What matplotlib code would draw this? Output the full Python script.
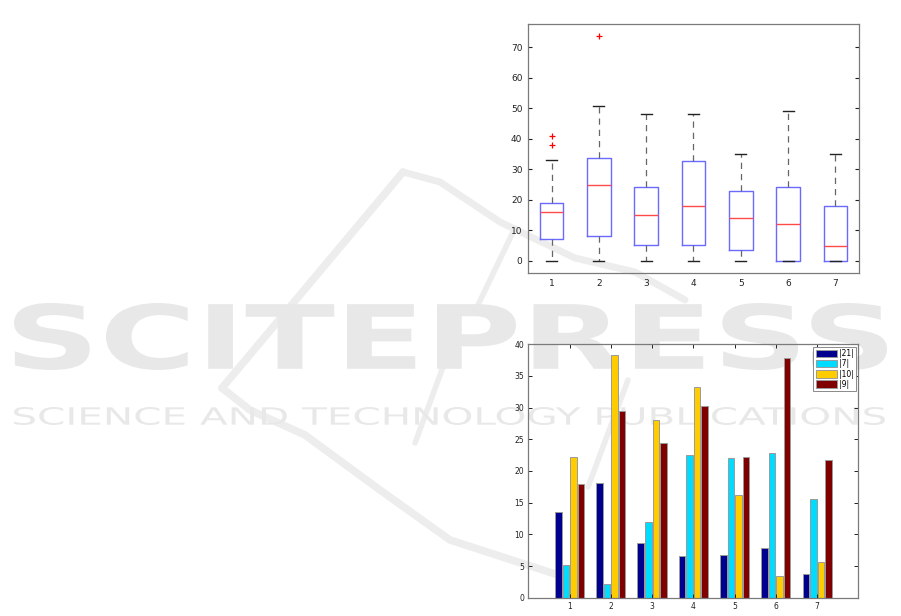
"""
Boxplot of errors per test and grouped bars comparing four methods
"""
import numpy as np
import matplotlib.pyplot as plt
import matplotlib.transforms as mtransforms
from matplotlib.textpath import TextPath
from matplotlib.patches import PathPatch
from matplotlib.font_manager import FontProperties

# box statistics (one entry per test 1..7)
box_labels = ['1', '2', '3', '4', '5', '6', '7']
box_whislo = [0, 0, 0, 0, 0, 0, 0]
box_q1 = [7.2, 8.1, 5.1, 5.1, 3.5, 0, 0]
box_med = [16.0, 24.9, 15.0, 17.9, 14.1, 12.1, 4.9]
box_q3 = [19.0, 33.7, 24.1, 32.8, 22.9, 24.1, 17.9]
box_whishi = [33.1, 50.8, 48.1, 48.1, 35.0, 49.2, 35.0]
box_fliers = [[38.0, 40.9], [73.9], [], [], [], [], []]

# grouped bars
groups = [1, 2, 3, 4, 5, 6, 7]
methods = ['|21|', '|7|', '|10|', '|9|']
vals_21 = [13.6, 18.05, 8.6, 6.6, 6.8, 7.8, 3.7]
vals_7 = [5.1, 2.1, 11.9, 22.6, 22.0, 22.9, 15.6]
vals_10 = [22.2, 38.3, 28.0, 33.3, 16.2, 3.5, 5.6]
vals_9 = [17.9, 29.5, 24.4, 30.2, 22.2, 37.8, 21.7]
bar_colors = ['#00008f', '#00dcff', '#ffcc00', '#800000']

fig = plt.figure(figsize=(9.01, 6.16), dpi=100)


def watermark_text(text, x0, y0, x1, y1, weight):
    # text stretched to fill a box given in pixel coords (y measured downward)
    tp = TextPath((0, 0), text, size=1, prop=FontProperties(family='DejaVu Sans', weight=weight))
    bb = tp.get_extents()
    W, H = 901.0, 616.0
    tr = (mtransforms.Affine2D()
          .translate(-bb.x0, -bb.y0)
          .scale((x1 - x0) / W / bb.width, (y1 - y0) / H / bb.height)
          .translate(x0 / W, 1 - y1 / H))
    patch = PathPatch(tp, facecolor='#e8e8e8', edgecolor='none',
                      transform=tr + fig.transFigure, zorder=-2)
    fig.add_artist(patch)


# faint publisher watermark in the background
bg = fig.add_axes([0, 0, 1, 1], zorder=-3)
bg.set_xlim(0, 901)
bg.set_ylim(616, 0)
bg.axis('off')
wm = dict(color='#ededed', solid_capstyle='round', solid_joinstyle='round')
bg.plot([222, 403], [388, 172], lw=5.5, **wm)
bg.plot([403, 440, 500, 575, 635, 685], [172, 182, 222, 258, 272, 300], lw=5, **wm)
bg.plot([478, 515], [305, 228], lw=4, **wm)
bg.plot([222, 250, 305, 380, 450, 518, 580], [388, 410, 435, 490, 540, 562, 582], lw=5.5, **wm)
bg.plot([415, 443], [443, 367], lw=4, **wm)
bg.plot([588, 628], [487, 380], lw=4, **wm)

watermark_text('SCITEPRESS', 14, 303, 887, 370, 'bold')
watermark_text('SCIENCE AND TECHNOLOGY PUBLICATIONS', 14, 407, 885, 425, 'normal')

# ---- top: boxplot ----
ax1 = fig.add_axes([0.586, 0.5568, 0.3674, 0.4042])
ax1.set_facecolor('none')
stats = []
for i in range(len(box_labels)):
    stats.append(dict(whislo=box_whislo[i], q1=box_q1[i], med=box_med[i],
                      q3=box_q3[i], whishi=box_whishi[i], fliers=box_fliers[i]))
ax1.bxp(stats, positions=range(1, 8), widths=0.5, capwidths=0.23,
        boxprops=dict(color='#6a6aff', lw=1.0),
        medianprops=dict(color='#ff4a4a', lw=1.0),
        whiskerprops=dict(color='#666666', lw=0.9, linestyle=(0, (5, 4))),
        capprops=dict(color='#222222', lw=1.0),
        flierprops=dict(marker='+', markeredgecolor='red', markersize=5, markeredgewidth=0.9))
ax1.set_xlim(0.5, 7.5)
ax1.set_ylim(-4, 77.7)
ax1.set_yticks(range(0, 71, 10))
ax1.set_xticks(range(1, 8))
ax1.set_xticklabels(box_labels)
ax1.tick_params(direction='in', length=3, width=0.8, labelsize=6.5, colors='#222222',
                right=True, top=False, bottom=False, pad=4)
for s in ax1.spines.values():
    s.set_color('#7a7a7a')
    s.set_linewidth(0.9)

# ---- bottom: grouped bars ----
ax2 = fig.add_axes([0.5864, 0.0297, 0.3663, 0.4114])
ax2.set_facecolor('none')
all_vals = [vals_21, vals_7, vals_10, vals_9]
x = np.array(groups, dtype=float)
offsets = (np.arange(4) - 1.5) * 0.183
for k in range(4):
    ax2.bar(x + offsets[k], all_vals[k], width=0.16, color=bar_colors[k],
            edgecolor='#9a9a9a', linewidth=0.7, label=methods[k])
ax2.set_xlim(0, 8)
ax2.set_ylim(0, 40)
ax2.set_xticks(groups)
ax2.set_yticks(range(0, 41, 5))
ax2.tick_params(direction='in', length=3, width=0.7, labelsize=5.5, colors='#222222',
                right=True, top=True, pad=3)
for s in ax2.spines.values():
    s.set_color('#7a7a7a')
    s.set_linewidth(0.9)
leg = ax2.legend(loc='upper right', fontsize=5.5, handlelength=2.8, handleheight=1.1,
                 borderaxespad=0.3, borderpad=0.35, labelspacing=0.15, handletextpad=0.2,
                 fancybox=False, framealpha=1)
leg.get_frame().set_edgecolor('#8a8a8a')
leg.get_frame().set_linewidth(0.7)

plt.savefig('out.png', dpi=100)
plt.close()
